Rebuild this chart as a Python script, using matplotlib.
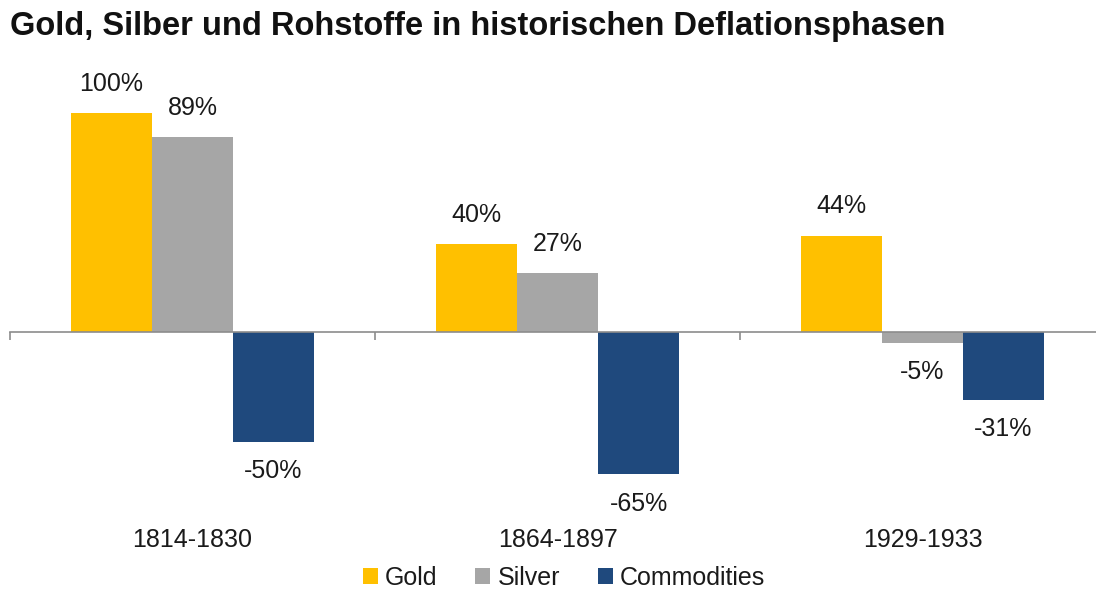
import matplotlib
matplotlib.use("Agg")
import matplotlib.pyplot as plt
import numpy as np

plt.rcParams['font.family'] = ['Liberation Sans', 'DejaVu Sans']

categories = ["1814-1830", "1864-1897", "1929-1933"]
series_names = ["Gold", "Silver", "Commodities"]
gold = [100, 40, 44]
silver = [89, 27, -5]
commodities = [-50, -65, -31]
colors = ["#FFC000", "#A6A6A6", "#1F497D"]
title = "Gold, Silber und Rohstoffe in historischen Deflationsphasen"

W, H = 1096, 590
fig = plt.figure(figsize=(W / 100, H / 100), dpi=100)

# axes in pixel terms
x_left, x_right = 10, 1105
y_top, y_bot = 60, 520
zero_px, px_per_unit = 332, 2.19
ax = fig.add_axes([x_left / W, 1 - y_bot / H, (x_right - x_left) / W, (y_bot - y_top) / H])
ax.set_xlim(-0.5, len(categories) - 0.5)
ax.set_ylim(-(y_bot - zero_px) / px_per_unit, (zero_px - y_top) / px_per_unit)

x = np.arange(len(categories))
bw = 0.222
for i, (vals, name, c) in enumerate(zip([gold, silver, commodities], series_names, colors)):
    pos = x + (i - 1) * bw
    bars = ax.bar(pos, vals, width=bw, color=c, label=name, zorder=2)
    for p, v in zip(pos, vals):
        off = 21 if v >= 0 else -21
        ax.annotate(f"{v}%", (p, v), xytext=(0, off), textcoords="offset points",
                    ha="center", va="center", fontsize=18, color="#1a1a1a")

for s in ["top", "right", "left"]:
    ax.spines[s].set_visible(False)
ax.spines["bottom"].set_position(("data", 0))
ax.spines["bottom"].set_color("#8c8c8c")
ax.spines["bottom"].set_linewidth(1.2)
ax.spines["bottom"].set_zorder(3)
ax.set_yticks([])
ax.set_xticks([-0.5, 0.5, 1.5, 2.5])
ax.set_xticklabels([])
ax.tick_params(axis="x", direction="out", length=6, color="#8c8c8c", width=1.2)

label_y = -(540 - zero_px) / px_per_unit
for xi, cat in zip(x, categories):
    ax.text(xi, label_y, cat, ha="center", va="center", fontsize=18, color="#1a1a1a", clip_on=False)

fig.text(10 / W, 1 - 27 / H, title, ha="left", va="center", fontsize=23.5, fontweight="bold", color="#111111")

fig.legend(loc="center", bbox_to_anchor=(564 / W, 1 - 578 / H), ncol=3, frameon=False,
           fontsize=18, handlelength=0.6, handleheight=0.6, handletextpad=0.3, columnspacing=1.5,
           borderpad=0, labelcolor="#1a1a1a")

fig.savefig("out.png", dpi=100)
